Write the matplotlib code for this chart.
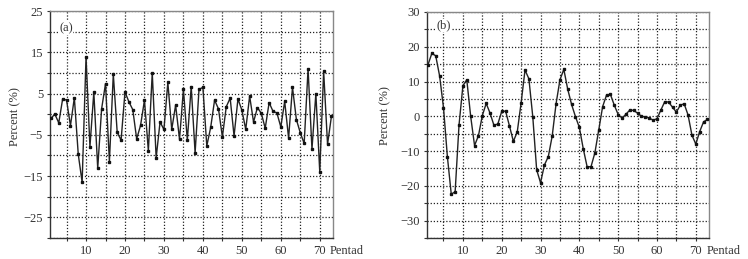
import matplotlib
matplotlib.use("Agg")
import matplotlib.pyplot as plt
from matplotlib.ticker import MultipleLocator, FixedLocator
from matplotlib.transforms import offset_copy

pentads = list(range(1, 74))

series_a = [-1.0, 0.0, -2.1, 3.7, 3.4, -2.8, 4.0, -9.7, -16.5, 13.9,
            -7.9, 5.3, -13.1, 1.3, 7.4, -11.5, 9.7, -4.4, -6.3, 5.4,
            3.0, 1.1, -6.0, -2.7, 3.4, -8.9, 10.0, -10.6, -1.9, -3.7,
            7.7, -3.7, 2.2, -6.1, 6.0, -6.3, 6.7, -9.4, 6.0, 6.5,
            -7.7, -3.2, 3.4, 1.3, -5.5, 1.8, 3.9, -5.3, 3.7, 1.0,
            -3.7, 4.4, -1.9, 1.6, 0.2, -3.4, 2.8, 0.7, 0.3, -3.1,
            3.1, -5.8, 6.5, -1.3, -4.5, -7.1, 11.0, -8.5, 5.0, -14.0,
            10.4, -7.3, -0.5]

series_b = [14.8, 18.1, 17.4, 11.6, 2.5, -11.6, -22.4, -21.7, -2.5, 8.8,
            10.5, 0.0, -8.4, -5.6, 0.2, 3.7, 0.9, -2.6, -2.2, 1.4,
            1.5, -2.8, -7.2, -4.5, 3.9, 13.3, 10.8, -0.1, -15.4, -19.1,
            -14.0, -11.6, -5.7, 3.6, 10.5, 13.5, 7.8, 3.4, -0.1, -3.2,
            -9.3, -14.5, -14.5, -10.5, -3.9, 2.8, 6.1, 6.3, 3.2, 0.5,
            -0.5, 0.6, 1.8, 1.7, 0.9, 0.0, -0.2, -0.5, -1.1, -0.7,
            1.8, 4.2, 4.1, 2.6, 1.2, 3.2, 3.6, 0.4, -5.4, -8.0,
            -4.4, -1.6, -0.9]

xticks = [10, 20, 30, 40, 50, 60, 70]
yticks_a = [-25, -15, -5, 5, 15, 25]
yticks_b = [-30, -20, -10, 0, 10, 20, 30]

plt.rcParams['font.family'] = ['Liberation Serif', 'DejaVu Serif']
plt.rcParams['font.size'] = 9

fig = plt.figure(figsize=(7.48, 2.59), dpi=100)
W, H = 748, 259
ax_a = fig.add_axes([50 / W, 1 - 238 / H, (333 - 50) / W, (238 - 11) / H])
ax_b = fig.add_axes([427 / W, 1 - 238 / H, (709 - 427) / W, (238 - 12) / H])

panels = [(ax_a, series_a, (-30, 25), yticks_a, '(a)', 0.925, (-0.124, 0.533)),
          (ax_b, series_b, (-35, 30), yticks_b, '(b)', 0.94, (-0.149, 0.54))]

tcol = '#333333'
for ax, data, ylim, yt, lab, ly, ylc in panels:
    ax.plot(pentads, data, color='#222222', lw=1.0, marker='s', ms=1.6,
            mfc='#111111', mec='#111111', zorder=3)
    ax.set_xlim(0.75, 73.4)
    ax.set_ylim(*ylim)
    ax.xaxis.set_major_locator(FixedLocator(xticks))
    ax.xaxis.set_minor_locator(MultipleLocator(5))
    ax.yaxis.set_major_locator(FixedLocator(yt))
    ax.yaxis.set_minor_locator(MultipleLocator(5))
    ax.grid(True, which='both', color='#222222', linestyle=(0, (1, 1.5)), lw=0.9, zorder=1)
    ax.tick_params(which='both', direction='out', length=2.5, width=0.8, colors='#333333',
                   labelsize=9, labelcolor=tcol, pad=2.5)
    for side in ['left', 'bottom']:
        ax.spines[side].set_color('#333333')
        ax.spines[side].set_linewidth(1.0)
    for side in ['top', 'right']:
        ax.spines[side].set_color('#888888')
        ax.spines[side].set_linewidth(1.0)
    ax.set_ylabel('Percent (%)', fontsize=9, color=tcol, va='center')
    ax.yaxis.set_label_coords(*ylc)
    ax.text(0.032, ly, lab, transform=ax.transAxes, ha='left', va='center',
            fontsize=9, color=tcol,
            bbox=dict(facecolor='white', edgecolor='none', pad=0.5))
    tr = offset_copy(ax.transAxes, fig=fig, x=0, y=-5.0, units='points')
    ax.text(0.99, 0.0, 'Pentad', transform=tr, ha='left', va='top',
            fontsize=9, color=tcol)

fig.savefig('out.png', dpi=100)
